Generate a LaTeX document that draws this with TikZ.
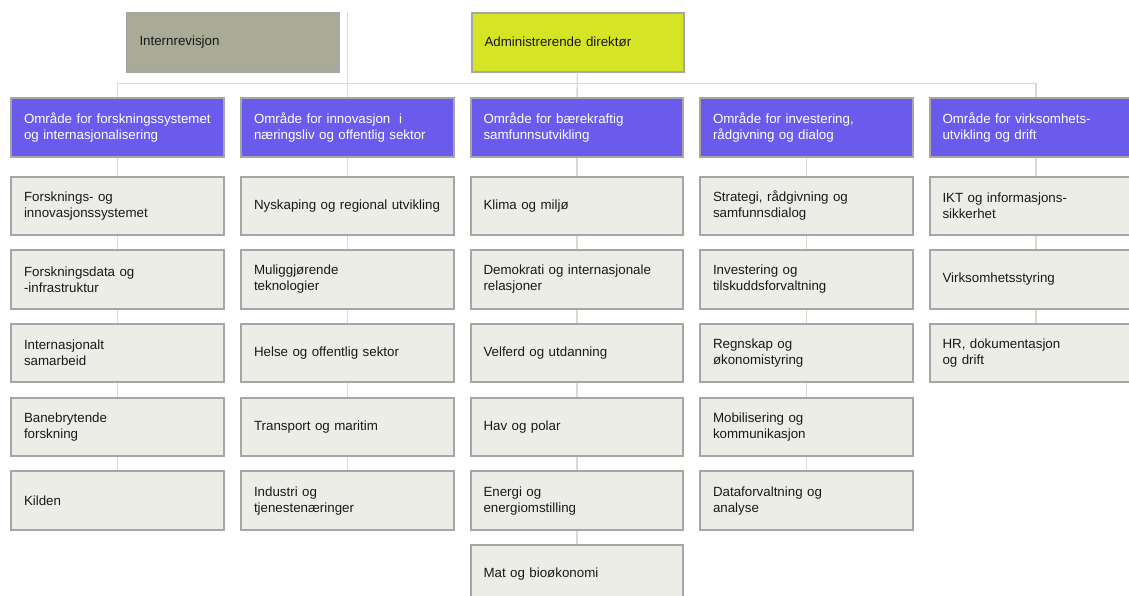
\documentclass[tikz,border=0pt]{standalone}
\usepackage{fontspec}
\setmainfont{Liberation Sans}

\definecolor{unitfill}{RGB}{237,237,232}
\definecolor{unitline}{RGB}{166,166,166}
\definecolor{areafill}{RGB}{106,91,236}
\definecolor{auditfill}{RGB}{169,171,150}
\definecolor{cedfill}{RGB}{213,229,38}
\definecolor{linkline}{RGB}{218,218,210}

\tikzset{every picture/.style={line width=0.75pt}}
\tikzset{
  box/.style={draw=unitline, line width=1.5pt, anchor=north west,
    minimum width=159.4pt, minimum height=43.9pt, text width=139.9pt,
    inner xsep=9.75pt, align=left, font=\fontsize{10}{12}\selectfont,
    text=black!90},
  unit/.style={box, fill=unitfill},
  area/.style={box, fill=areafill, text=white},
  link/.style={draw=linkline, line width=1.1pt}
}

\begin{document}
\begin{tikzpicture}[x=0.75pt,y=0.75pt,yscale=-1,xscale=1]
%set diagram to the page: 1129 x 596
\clip (0,0) rectangle (1129,596);
\fill[white] (0,0) rectangle (1129,596);

%Shape: Rectangle [top]
\node[box, fill=auditfill] (audit) at (125.5,12) {Internrevisjon};
\node[box, fill=cedfill] (ced) at (470.5,12) {Administrerende direktør};

%Shape: Rectangle [areas]
\node[area] (a1) at (10,97) {\mbox{Område for forskningssystemet}\\og internasjonalisering};
\node[area] (a2) at (240,97) {Område for innovasjon~ i\\næringsliv og offentlig sektor};
\node[area] (a3) at (469.5,97) {Område for bærekraftig\\samfunnsutvikling};
\node[area] (a4) at (699,97) {Område for investering,\\rådgivning og dialog};
\node[area] (a5) at (928.5,97) {Område for virksomhets-\\utvikling og drift};

%Shape: Rectangle [column 1]
\node[unit] (a1u1) at (10,175.5) {Forsknings- og\\innovasjonssystemet};
\node[unit] (a1u2) at (10,249.2) {Forskningsdata og\\-infrastruktur};
\node[unit] (a1u3) at (10,322.9) {Internasjonalt\\samarbeid};
\node[unit] (a1u4) at (10,396.6) {Banebrytende\\forskning};
\node[unit] (a1u5) at (10,470.3) {Kilden};

%Shape: Rectangle [column 2]
\node[unit] (a2u1) at (240,175.5) {\mbox{Nyskaping og regional utvikling}};
\node[unit] (a2u2) at (240,249.2) {Muliggjørende\\teknologier};
\node[unit] (a2u3) at (240,322.9) {Helse og offentlig sektor};
\node[unit] (a2u4) at (240,396.6) {Transport og maritim};
\node[unit] (a2u5) at (240,470.3) {Industri og\\tjenestenæringer};

%Shape: Rectangle [column 3]
\node[unit] (a3u1) at (469.5,175.5) {Klima og miljø};
\node[unit] (a3u2) at (469.5,249.2) {Demokrati og internasjonale\\relasjoner};
\node[unit] (a3u3) at (469.5,322.9) {Velferd og utdanning};
\node[unit] (a3u4) at (469.5,396.6) {Hav og polar};
\node[unit] (a3u5) at (469.5,470.3) {Energi og\\energiomstilling};
\node[unit] (a3u6) at (469.5,544) {Mat og bioøkonomi};

%Shape: Rectangle [column 4]
\node[unit] (a4u1) at (699,175.5) {Strategi, rådgivning og\\samfunnsdialog};
\node[unit] (a4u2) at (699,249.2) {Investering og\\tilskuddsforvaltning};
\node[unit] (a4u3) at (699,322.9) {Regnskap og\\økonomistyring};
\node[unit] (a4u4) at (699,396.6) {Mobilisering og\\kommunikasjon};
\node[unit] (a4u5) at (699,470.3) {Dataforvaltning og\\analyse};

%Shape: Rectangle [column 5]
\node[unit] (a5u1) at (928.5,175.5) {IKT og informasjons-\\sikkerhet};
\node[unit] (a5u2) at (928.5,249.2) {Virksomhetsstyring};
\node[unit] (a5u3) at (928.5,322.9) {HR, dokumentasjon\\og drift};

%Straight Lines [bus]
\coordinate (bus) at (0,83.5);
\draw[link] (a1.north) -- (a1.north |- bus) -- (a5.north |- bus) -- (a5.north);
\draw[link] (ced) -- (a3);
\draw[link] (a2.north |- audit.north) -- (a2);

%Straight Lines [columns]
\draw[link] (a1) -- (a1u1) (a1u1) -- (a1u2) (a1u2) -- (a1u3) (a1u3) -- (a1u4) (a1u4) -- (a1u5);
\draw[link] (a2) -- (a2u1) (a2u1) -- (a2u2) (a2u2) -- (a2u3) (a2u3) -- (a2u4) (a2u4) -- (a2u5);
\draw[link] (a3) -- (a3u1) (a3u1) -- (a3u2) (a3u2) -- (a3u3) (a3u3) -- (a3u4) (a3u4) -- (a3u5) (a3u5) -- (a3u6);
\draw[link] (a4) -- (a4u1) (a4u1) -- (a4u2) (a4u2) -- (a4u3) (a4u3) -- (a4u4) (a4u4) -- (a4u5);
\draw[link] (a5) -- (a5u1) (a5u1) -- (a5u2) (a5u2) -- (a5u3);

\end{tikzpicture}
\end{document}
